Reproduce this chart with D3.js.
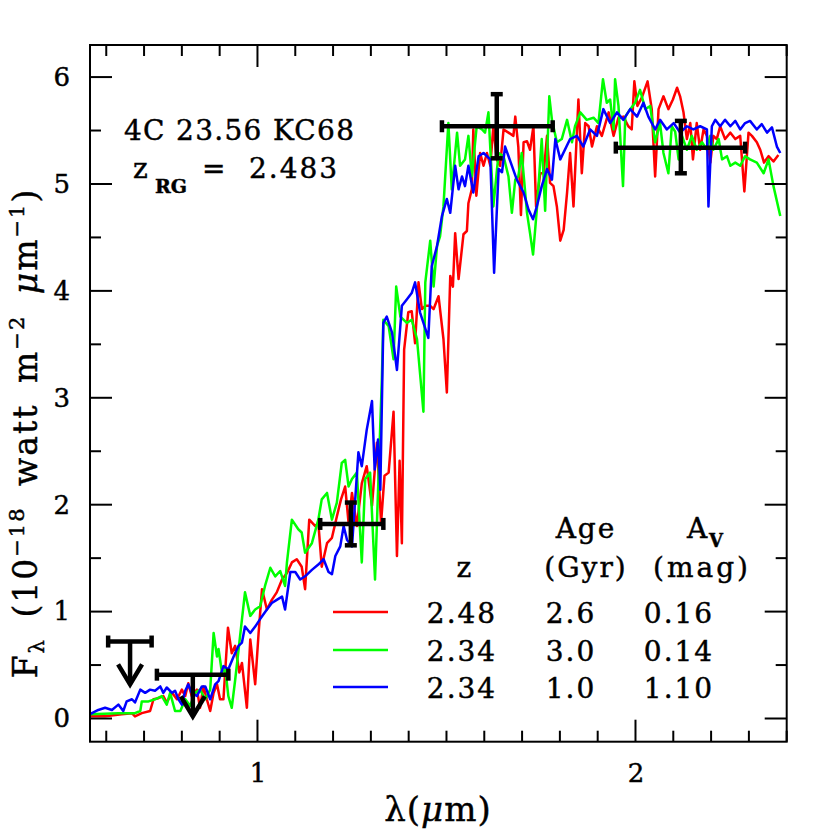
<!DOCTYPE html>
<html>
<head>
<meta charset="utf-8">
<script src="https://cdn.jsdelivr.net/npm/d3@7"></script>
<style>
  body { margin: 0; background: #fff; }
  text { font-family: "DejaVu Serif", serif; fill: #000; stroke: #000; stroke-width: 0.45px; }
</style>
</head>
<body>
<svg id="chart" width="830" height="830"></svg>
<script>
// model spectra, lambda in micron, flux in 1e-18 W m^-2 um^-1
const redLam = [0.557,0.597,0.641,0.668,0.676,0.694,0.716,0.725,0.738,0.751,0.760,0.774,0.787,0.800,0.809,0.817,0.826,0.840,0.848,0.857,0.866,0.875,0.884,0.893,0.901,0.910,0.922,0.932,0.941,0.952,0.959,0.972,0.981,0.994,1.003,1.012,1.025,1.038,1.051,1.065,1.078,1.091,1.104,1.117,1.126,1.137,1.153,1.161,1.170,1.184,1.197,1.210,1.221,1.232,1.241,1.250,1.263,1.276,1.289,1.303,1.316,1.327,1.336,1.347,1.360,1.369,1.376,1.382,1.388,1.399,1.408,1.417,1.426,1.435,1.444,1.457,1.466,1.479,1.492,1.501,1.510,1.517,1.523,1.532,1.545,1.554,1.558,1.567,1.571,1.579,1.589,1.598,1.607,1.616,1.624,1.633,1.642,1.651,1.664,1.677,1.682,1.690,1.697,1.704,1.713,1.721,1.730,1.737,1.748,1.757,1.766,1.774,1.783,1.792,1.801,1.810,1.819,1.827,1.836,1.849,1.858,1.867,1.876,1.885,1.898,1.911,1.929,1.942,1.955,1.968,1.981,1.990,1.997,2.005,2.017,2.032,2.043,2.052,2.061,2.074,2.087,2.099,2.110,2.118,2.127,2.136,2.145,2.152,2.162,2.171,2.180,2.189,2.198,2.206,2.215,2.224,2.237,2.251,2.264,2.277,2.288,2.299,2.308,2.321,2.330,2.340,2.352,2.365,2.378];
const redFlux = [0.02,0.02,0.04,0.05,0.02,0.05,0.07,0.18,0.19,0.21,0.15,0.24,0.18,0.27,0.21,0.33,0.21,0.27,0.10,0.30,0.18,0.07,0.24,0.32,0.18,0.18,0.85,0.61,0.68,0.43,0.52,0.10,0.74,0.32,0.80,1.21,1.02,1.11,1.18,1.30,1.36,1.46,1.49,1.42,1.21,1.86,1.80,1.83,1.42,1.64,1.69,1.89,2.05,2.17,1.83,2.11,1.80,2.20,2.36,1.99,2.58,1.83,2.27,2.30,2.87,1.52,2.41,1.64,3.45,3.80,3.81,3.51,4.08,3.83,3.86,3.86,3.83,3.95,3.55,3.05,4.14,4.04,4.54,4.11,4.53,4.56,4.82,4.95,5.51,4.89,5.29,5.17,5.29,5.17,5.54,5.23,5.17,5.51,5.48,5.45,5.63,5.35,4.71,5.39,5.40,5.32,5.54,4.79,5.10,5.10,5.45,5.01,4.98,4.79,4.47,4.57,4.92,5.29,4.79,5.79,5.10,5.57,5.54,5.35,5.54,5.45,5.67,5.45,5.62,5.63,5.54,5.51,5.96,5.73,5.81,5.96,5.70,5.07,5.70,5.82,5.70,5.79,5.90,5.82,5.67,5.42,5.57,5.23,5.57,5.32,5.51,5.45,5.20,5.45,5.42,5.54,5.42,5.48,5.42,5.45,4.93,5.48,5.45,5.39,5.32,5.20,5.26,5.21,5.27];

const greenLam = [0.557,0.632,0.676,0.690,0.694,0.712,0.729,0.747,0.760,0.769,0.782,0.796,0.809,0.822,0.835,0.848,0.862,0.875,0.884,0.893,0.897,0.906,0.915,0.923,0.932,0.941,0.954,0.967,0.981,0.994,1.007,1.020,1.034,1.047,1.060,1.073,1.078,1.091,1.108,1.117,1.126,1.144,1.161,1.170,1.184,1.197,1.210,1.223,1.232,1.241,1.250,1.263,1.276,1.285,1.298,1.311,1.320,1.329,1.333,1.347,1.360,1.367,1.378,1.395,1.408,1.422,1.439,1.444,1.457,1.466,1.475,1.483,1.492,1.505,1.514,1.528,1.536,1.549,1.558,1.567,1.580,1.594,1.602,1.611,1.624,1.638,1.651,1.664,1.673,1.682,1.690,1.699,1.713,1.721,1.729,1.739,1.752,1.761,1.772,1.779,1.792,1.805,1.819,1.832,1.840,1.854,1.871,1.889,1.902,1.914,1.924,1.933,1.942,1.946,1.955,1.967,1.973,1.986,1.999,2.012,2.026,2.039,2.052,2.065,2.074,2.087,2.096,2.105,2.114,2.123,2.136,2.149,2.162,2.176,2.189,2.198,2.206,2.220,2.229,2.242,2.251,2.264,2.277,2.290,2.303,2.321,2.339,2.352,2.365,2.383];
const greenFlux = [0.04,0.05,0.05,0.07,0.16,0.16,0.18,0.21,0.13,0.24,0.07,0.07,0.18,0.12,0.24,0.27,0.18,0.27,0.80,0.58,0.65,0.43,0.46,0.21,0.10,0.36,0.77,1.18,0.96,1.02,1.05,1.24,1.41,1.33,1.38,1.24,1.46,1.86,1.77,1.74,1.55,1.64,1.86,2.05,2.11,1.86,2.02,2.39,2.42,2.17,2.24,2.30,1.46,2.24,2.30,1.30,2.24,3.17,3.73,3.67,3.36,4.04,3.76,3.70,3.73,3.55,2.87,4.08,4.47,4.04,4.42,4.51,4.79,5.57,4.95,5.48,5.17,5.23,5.45,5.07,5.54,5.51,5.48,5.67,4.79,5.29,5.26,5.07,4.73,5.04,5.07,5.29,4.73,4.54,4.34,4.76,5.42,4.75,5.82,5.60,5.39,5.42,5.60,5.39,5.54,5.67,5.60,5.62,5.57,5.98,5.76,5.79,5.51,5.98,5.73,4.98,5.63,5.70,5.76,5.88,5.70,5.73,5.39,5.57,5.29,5.10,5.54,5.49,5.23,5.45,5.32,5.45,5.32,5.39,5.32,5.45,5.32,5.42,5.23,5.26,5.17,5.20,5.17,5.26,5.23,5.20,5.10,5.23,4.98,4.70];

const blueLam = [0.557,0.579,0.597,0.615,0.632,0.645,0.654,0.668,0.676,0.690,0.703,0.716,0.729,0.743,0.751,0.760,0.774,0.782,0.791,0.800,0.809,0.817,0.826,0.840,0.853,0.862,0.875,0.888,0.897,0.910,0.923,0.937,0.950,0.959,0.967,0.981,0.994,1.007,1.025,1.038,1.051,1.065,1.073,1.087,1.100,1.113,1.126,1.144,1.161,1.175,1.188,1.197,1.206,1.219,1.228,1.237,1.250,1.258,1.267,1.276,1.289,1.303,1.310,1.319,1.325,1.333,1.342,1.356,1.369,1.382,1.395,1.408,1.417,1.430,1.452,1.461,1.475,1.488,1.501,1.510,1.523,1.532,1.541,1.549,1.558,1.571,1.585,1.598,1.616,1.626,1.638,1.647,1.655,1.686,1.704,1.717,1.729,1.739,1.752,1.766,1.779,1.788,1.801,1.827,1.845,1.862,1.880,1.898,1.915,1.933,1.951,1.968,1.986,2.004,2.021,2.034,2.052,2.065,2.083,2.101,2.118,2.136,2.153,2.171,2.189,2.193,2.202,2.211,2.224,2.237,2.251,2.264,2.277,2.290,2.303,2.321,2.334,2.348,2.361,2.374,2.383];
const blueFlux = [0.04,0.08,0.10,0.08,0.13,0.07,0.16,0.18,0.15,0.27,0.24,0.27,0.26,0.30,0.24,0.29,0.24,0.26,0.18,0.13,0.26,0.32,0.24,0.21,0.30,0.30,0.18,0.32,0.35,0.49,0.46,0.58,0.68,0.71,0.86,0.80,0.86,0.93,1.02,1.08,1.11,1.14,1.02,1.37,1.37,1.30,1.33,1.39,1.44,1.49,1.37,1.35,1.52,1.61,1.80,1.67,1.61,2.02,2.49,2.36,2.70,2.97,2.33,2.61,2.14,3.70,3.76,3.61,3.26,3.86,3.92,3.98,4.08,3.80,3.56,4.23,4.42,4.70,4.86,4.73,5.17,4.95,5.07,4.98,5.17,4.92,5.26,5.29,5.23,4.17,5.14,5.11,5.35,5.04,4.92,4.76,4.67,4.79,4.98,5.14,5.04,5.42,5.23,5.42,5.45,5.35,5.51,5.45,5.70,5.57,5.67,5.60,5.70,5.63,5.76,5.63,5.51,5.60,5.51,5.57,5.48,5.54,5.51,5.54,5.51,4.79,5.54,5.60,5.54,5.60,5.54,5.59,5.51,5.57,5.59,5.51,5.56,5.48,5.53,5.35,5.29];

// photometry: detections (with x and y errors) and upper limits
const photLam = [1.247, 1.633, 2.120];
const photLo = [1.166, 1.488, 1.948];
const photHi = [1.333, 1.781, 2.290];
const photFlux = [1.82, 5.54, 5.34];
const photErrLo = [1.62, 5.24, 5.10];
const photErrHi = [2.02, 5.84, 5.59];

const limLam = [0.663, 0.829];
const limLo = [0.605, 0.734];
const limHi = [0.720, 0.923];
const limFlux = [0.72, 0.41];
const limTip = [0.32, 0.02];

// legend table
const legZ = ["2.48", "2.34", "2.34"];
const legAge = ["2.6", "3.0", "1.0"];
const legAv = ["0.16", "0.14", "1.10"];
const colors = ["#ff0000", "#00ff00", "#0000ff"];

const xMajor = [1, 2];
const xMinor = d3.range(0.6, 2.401, 0.1);
const yMajor = [0, 1, 2, 3, 4, 5, 6];
const yMinor = d3.range(0, 6.01, 0.5);

const svg = d3.select("#chart");
const width = +svg.attr("width");
const height = +svg.attr("height");
const margin = { top: 45, right: 43.3, bottom: 88.3, left: 90 };

const x = d3.scaleLinear().domain([0.557, 2.4]).range([margin.left, width - margin.right]);
const y = d3.scaleLinear().domain([-0.217, 6.3]).range([height - margin.bottom, margin.top]);

const x0 = margin.left, x1 = width - margin.right;
const y0 = height - margin.bottom, y1 = margin.top;

// spectra
const line = d3.line().x(d => x(d[0])).y(d => y(d[1]));
const series = [
  { lam: redLam, flux: redFlux },
  { lam: greenLam, flux: greenFlux },
  { lam: blueLam, flux: blueFlux }
];
svg.append("g")
  .selectAll("path")
  .data(series)
  .join("path")
    .attr("fill", "none")
    .attr("stroke", (d, i) => colors[i])
    .attr("stroke-width", 2.5)
    .attr("stroke-linejoin", "round")
    .attr("d", d => line(d.lam.map((l, i) => [l, d.flux[i]])));

// error bars
const eb = svg.append("g").attr("stroke", "#000").attr("stroke-width", 4.5).attr("fill", "none");
const cap = 6;
photLam.forEach((l, i) => {
  eb.append("line").attr("x1", x(photLo[i])).attr("x2", x(photHi[i])).attr("y1", y(photFlux[i])).attr("y2", y(photFlux[i]));
  eb.append("line").attr("x1", x(photLo[i])).attr("x2", x(photLo[i])).attr("y1", y(photFlux[i]) - cap).attr("y2", y(photFlux[i]) + cap);
  eb.append("line").attr("x1", x(photHi[i])).attr("x2", x(photHi[i])).attr("y1", y(photFlux[i]) - cap).attr("y2", y(photFlux[i]) + cap);
  eb.append("line").attr("x1", x(l)).attr("x2", x(l)).attr("y1", y(photErrLo[i])).attr("y2", y(photErrHi[i]));
  eb.append("line").attr("x1", x(l) - cap).attr("x2", x(l) + cap).attr("y1", y(photErrLo[i])).attr("y2", y(photErrLo[i]));
  eb.append("line").attr("x1", x(l) - cap).attr("x2", x(l) + cap).attr("y1", y(photErrHi[i])).attr("y2", y(photErrHi[i]));
});
limLam.forEach((l, i) => {
  eb.append("line").attr("x1", x(limLo[i])).attr("x2", x(limHi[i])).attr("y1", y(limFlux[i])).attr("y2", y(limFlux[i]));
  eb.append("line").attr("x1", x(limLo[i])).attr("x2", x(limLo[i])).attr("y1", y(limFlux[i]) - cap).attr("y2", y(limFlux[i]) + cap);
  eb.append("line").attr("x1", x(limHi[i])).attr("x2", x(limHi[i])).attr("y1", y(limFlux[i]) - cap).attr("y2", y(limFlux[i]) + cap);
  eb.append("line").attr("x1", x(l)).attr("x2", x(l)).attr("y1", y(limFlux[i])).attr("y2", y(limTip[i]));
  const tx = x(l), ty = y(limTip[i]);
  eb.append("path").attr("stroke-linejoin", "miter")
    .attr("d", `M${tx - 12},${ty - 20}L${tx},${ty}L${tx + 12},${ty - 20}`);
});

// frame and ticks (inward on all four sides)
svg.append("rect")
  .attr("x", x0).attr("y", y1).attr("width", x1 - x0).attr("height", y0 - y1)
  .attr("fill", "none").attr("stroke", "#000").attr("stroke-width", 2);

const ticks = svg.append("g").attr("stroke", "#000").attr("stroke-width", 2);
const xt = xMinor.map(v => ({ v, len: xMajor.some(m => Math.abs(m - v) < 1e-6) ? 22 : 11 }));
xt.forEach(t => {
  ticks.append("line").attr("x1", x(t.v)).attr("x2", x(t.v)).attr("y1", y0).attr("y2", y0 - t.len);
  ticks.append("line").attr("x1", x(t.v)).attr("x2", x(t.v)).attr("y1", y1).attr("y2", y1 + t.len);
});
const yt = yMinor.map(v => ({ v, len: yMajor.includes(v) ? 22 : 11 }));
yt.forEach(t => {
  ticks.append("line").attr("x1", x0).attr("x2", x0 + t.len).attr("y1", y(t.v)).attr("y2", y(t.v));
  ticks.append("line").attr("x1", x1).attr("x2", x1 - t.len).attr("y1", y(t.v)).attr("y2", y(t.v));
});

// tick labels via d3 axes
const xAxis = svg.append("g")
  .attr("transform", `translate(0,${y0})`)
  .call(d3.axisBottom(x).tickValues(xMajor).tickSize(0).tickPadding(22).tickFormat(d3.format("d")));
xAxis.select(".domain").remove();
xAxis.selectAll("text").style("font-family", "DejaVu Serif").style("font-size", "26px").attr("fill", "#000");

const yAxis = svg.append("g")
  .attr("transform", `translate(${x0},0)`)
  .call(d3.axisLeft(y).tickValues(yMajor).tickSize(0).tickPadding(20).tickFormat(d3.format("d")));
yAxis.select(".domain").remove();
yAxis.selectAll("text").style("font-family", "DejaVu Serif").style("font-size", "26px").attr("fill", "#000");

// axis titles
svg.append("text")
  .attr("x", 438).attr("y", 821)
  .attr("text-anchor", "middle")
  .style("font-size", "34px")
  .style("letter-spacing", "1px")
  .html('λ(<tspan font-style="italic">μ</tspan>m)');

const yl = svg.append("text")
  .attr("transform", "translate(37,433) rotate(-90)")
  .attr("text-anchor", "middle")
  .style("font-size", "33px")
  .style("letter-spacing", "2px")
  .style("word-spacing", "8px");
yl.append("tspan").text("F");
yl.append("tspan").attr("font-size", "21px").attr("dy", 7).text("λ");
yl.append("tspan").attr("dy", -7).text(" (10");
yl.append("tspan").attr("font-size", "21px").attr("dy", -13).text("−18");
yl.append("tspan").attr("dy", 13).text(" watt m");
yl.append("tspan").attr("font-size", "21px").attr("dy", -13).text("−2");
yl.append("tspan").attr("dy", 13).attr("font-style", "italic").text(" μ");
yl.append("tspan").text("m");
yl.append("tspan").attr("font-size", "21px").attr("dy", -13).text("−1");
yl.append("tspan").attr("dy", 13).text(")");

// object label
svg.append("text").attr("x", 124).attr("y", 140)
  .style("font-size", "28px").style("letter-spacing", "1.3px").text("4C 23.56 KC68");
svg.append("text").attr("x", 133).attr("y", 178).style("font-size", "28px").text("z");
svg.append("text").attr("x", 155).attr("y", 193).style("font-size", "19px").attr("font-weight", "bold").text("RG");
svg.append("text").attr("x", 202).attr("y", 178).style("font-size", "28px").text("=");
svg.append("text").attr("x", 249).attr("y", 178).style("font-size", "28px").style("letter-spacing", "2px").text("2.483");

// legend table
const lg = svg.append("g").style("font-size", "28px").style("letter-spacing", "2px");
lg.append("text").attr("x", 465).attr("y", 577).attr("text-anchor", "middle").text("z");
lg.append("text").attr("x", 586).attr("y", 538).attr("text-anchor", "middle").text("Age");
lg.append("text").attr("x", 586).attr("y", 577).attr("text-anchor", "middle").text("(Gyr)");
lg.append("text").attr("x", 687).attr("y", 538).style("letter-spacing", "0px").text("A");
lg.append("text").attr("x", 709).attr("y", 547).style("font-size", "18px").style("letter-spacing", "0px")
  .attr("font-weight", "bold").text("V");
lg.append("text").attr("x", 702).attr("y", 577).attr("text-anchor", "middle").style("letter-spacing", "3px").text("(mag)");

const rowY = [623, 661, 698];
legZ.forEach((z, i) => {
  lg.append("line").attr("x1", 333).attr("x2", 388).attr("y1", rowY[i] - 11).attr("y2", rowY[i] - 11)
    .attr("stroke", colors[i]).attr("stroke-width", 2.5);
  lg.append("text").attr("x", 462).attr("y", rowY[i]).attr("text-anchor", "middle").text(z);
  lg.append("text").attr("x", 571).attr("y", rowY[i]).attr("text-anchor", "middle").text(legAge[i]);
  lg.append("text").attr("x", 679).attr("y", rowY[i]).attr("text-anchor", "middle").text(legAv[i]);
});
</script>
</body>
</html>
